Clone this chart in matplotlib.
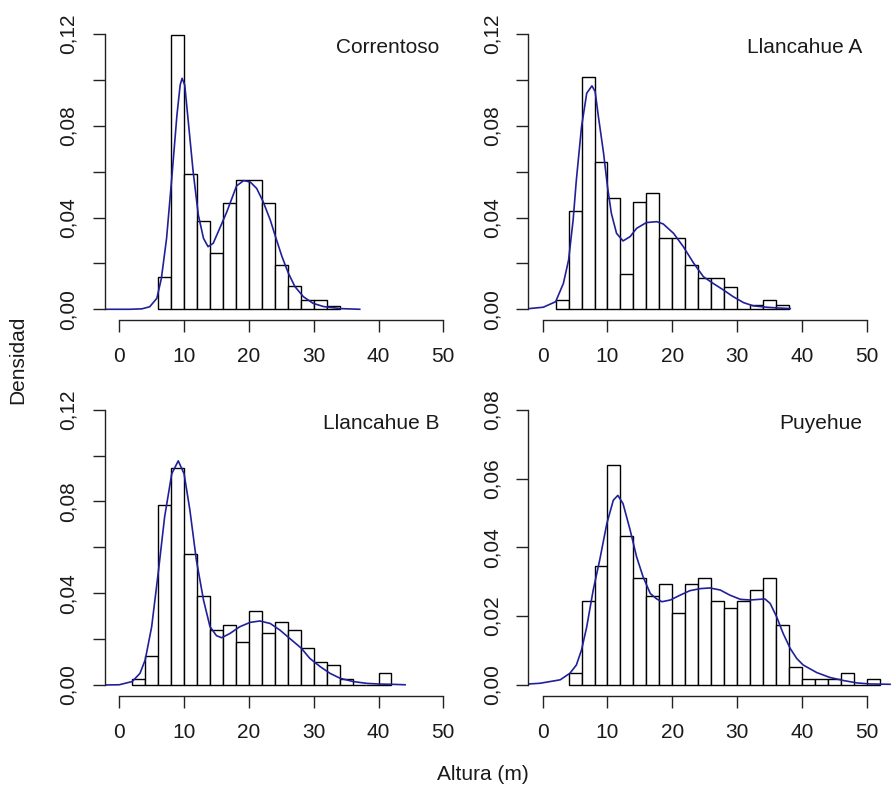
import numpy as np
import matplotlib
matplotlib.use("Agg")
from matplotlib import pyplot as plt

plt.rcParams['font.family'] = ['Liberation Sans', 'DejaVu Sans']

# histogram bins are 2 m wide; first left edge and bar densities per site
names = ["Correntoso", "Llancahue A", "Llancahue B", "Puyehue"]
starts = [6, 2, 2, 4]
h_corr = [0.0142, 0.1197, 0.0591, 0.0387, 0.0244, 0.0463, 0.0565, 0.0565,
          0.0463, 0.0193, 0.0103, 0.0039, 0.0039, 0.0016]
h_llA = [0.0039, 0.0429, 0.1011, 0.0642, 0.0487, 0.0155, 0.0466, 0.0506,
         0.0311, 0.0311, 0.0195, 0.0137, 0.0137, 0.0097, 0.0, 0.0017,
         0.0039, 0.0017]
h_llB = [0.0025, 0.0126, 0.0785, 0.0948, 0.0572, 0.0386, 0.0238, 0.0261,
         0.0187, 0.0324, 0.0225, 0.0274, 0.0238, 0.0163, 0.0100, 0.0087,
         0.0025, 0.0, 0.0, 0.0051]
h_puy = [0.0034, 0.0243, 0.0346, 0.0640, 0.0433, 0.0311, 0.0259, 0.0294,
         0.0208, 0.0294, 0.0311, 0.0243, 0.0225, 0.0243, 0.0277, 0.0311,
         0.0173, 0.0052, 0.0017, 0.0017, 0.0017, 0.0034, 0.0, 0.0017]

# density curves
kx_corr = [-2.2, 1.6, 3.5, 4.7, 5.8, 6.5, 7.3, 8.1, 8.9, 9.4, 9.7, 10.1, 10.6,
           11.4, 12.2, 13.0, 13.7, 14.5, 15.5, 16.6, 18.1, 19.2, 20.2, 21.2,
           22.2, 23.3, 24.1, 25.1, 26.1, 27.1, 28.4, 29.9, 31.5, 34.1, 37.1]
ky_corr = [0, 0, 0.0002, 0.0011, 0.0048, 0.0135, 0.0309, 0.0571, 0.0847,
           0.0978, 0.1007, 0.0978, 0.0833, 0.0600, 0.0411, 0.0309, 0.0273,
           0.0288, 0.0353, 0.0425, 0.0538, 0.0561, 0.0555, 0.0527, 0.0469,
           0.0389, 0.0317, 0.0230, 0.0157, 0.0099, 0.0055, 0.0026, 0.0012,
           0.0003, 0]
kx_llA = [-2.1, 0.1, 2.0, 3.2, 4.0, 4.7, 5.2, 6.0, 6.8, 7.6, 8.1, 8.6, 9.4,
          10.0, 10.6, 11.4, 12.4, 13.5, 14.5, 16.0, 17.6, 18.6, 20.2, 21.7,
          23.3, 24.8, 26.3, 27.9, 29.4, 31.0, 32.5, 34.6, 36.1, 38.2]
ky_llA = [0.0003, 0.0009, 0.0033, 0.0113, 0.0215, 0.0389, 0.0564, 0.0796,
          0.0942, 0.0974, 0.0949, 0.0840, 0.0680, 0.0535, 0.0418, 0.0331,
          0.0298, 0.0317, 0.0353, 0.0378, 0.0382, 0.0372, 0.0331, 0.0273,
          0.0201, 0.0142, 0.0113, 0.0084, 0.0055, 0.0029, 0.0015, 0.0009,
          0.0006, 0.0003]
kx_llB = [-2.2, 0.0, 2.0, 3.2, 4.0, 5.0, 6.0, 7.0, 8.1, 9.1, 10.0, 10.9, 11.9,
          13.0, 14.0, 15.0, 15.8, 17.1, 18.6, 20.2, 21.7, 23.3, 24.8, 26.3,
          28.1, 29.4, 31.0, 32.5, 34.1, 36.1, 38.2, 40.2, 42.0, 44.1]
ky_llB = [0.0, 0.0001, 0.0015, 0.0051, 0.0109, 0.0254, 0.0486, 0.0733,
          0.0921, 0.0977, 0.0921, 0.0762, 0.0544, 0.0370, 0.0254, 0.0215,
          0.0206, 0.0225, 0.0254, 0.0273, 0.0279, 0.0268, 0.0239, 0.0203,
          0.0160, 0.0116, 0.0080, 0.0051, 0.0029, 0.0015, 0.0007, 0.0004,
          0.0003, 0.0001]
kx_puy = [-2.1, -0.4, 2.7, 4.2, 5.2, 6.0, 6.8, 7.8, 8.8, 9.9, 10.9, 11.6,
          12.4, 13.5, 14.5, 15.5, 16.6, 17.6, 18.4, 19.7, 21.2, 22.7, 24.3,
          25.8, 27.4, 28.9, 30.5, 32.0, 33.5, 34.3, 35.1, 36.1, 37.1, 38.2,
          39.2, 40.2, 42.3, 44.3, 46.4, 48.5, 50.5, 53.6]
ky_puy = [0.0003, 0.0005, 0.0015, 0.0034, 0.0058, 0.0102, 0.0169, 0.0276,
          0.0363, 0.0469, 0.0537, 0.0551, 0.0527, 0.0450, 0.0372, 0.0314,
          0.0266, 0.0250, 0.0242, 0.0247, 0.0261, 0.0274, 0.0280, 0.0282,
          0.0276, 0.0261, 0.0249, 0.0247, 0.0249, 0.0250, 0.0237, 0.0198,
          0.0150, 0.0106, 0.0077, 0.0058, 0.0036, 0.0022, 0.0013, 0.0006,
          0.0003, 0.0002]

heights = [h_corr, h_llA, h_llB, h_puy]
curves = [(kx_corr, ky_corr), (kx_llA, ky_llA), (kx_llB, ky_llB), (kx_puy, ky_puy)]
ymax = [0.12, 0.12, 0.12, 0.08]

W, H = 893, 795
fig = plt.figure(figsize=(W / 100, H / 100), dpi=100)
lefts = [105, 528.4, 105, 528.4]
bottoms = [320.3, 320.3, 696, 696]
pw, ph = 385, 297.3

for i in range(4):
    ax = fig.add_axes([lefts[i] / W, 1 - bottoms[i] / H, pw / W, ph / H])
    edges = starts[i] + 2 * np.arange(len(heights[i]))
    ax.bar(edges, heights[i], width=2, align='edge', facecolor='white',
           edgecolor='black', linewidth=1.0)
    ax.plot(curves[i][0], curves[i][1], color='#20209a', linewidth=1.2)
    ax.set_xlim(-2.2, 57.2)
    ax.set_ylim(-0.04 * ymax[i], 1.04 * ymax[i])
    ax.spines['top'].set_visible(False)
    ax.spines['right'].set_visible(False)
    ax.spines['left'].set_bounds(0, ymax[i])
    ax.spines['bottom'].set_bounds(0, 50)
    for s in ['left', 'bottom']:
        ax.spines[s].set_linewidth(1.0)
        ax.spines[s].set_color('#222222')
    ax.set_xticks(range(0, 51, 10))
    yt = np.arange(0, ymax[i] + 0.001, 0.02)
    ax.set_yticks(yt)
    if ymax[i] > 0.1:
        ylab = [("%.2f" % v).replace('.', ',') if k % 2 == 0 else ''
                for k, v in enumerate(yt)]
    else:
        ylab = [("%.2f" % v).replace('.', ',') for v in yt]
    ax.set_yticklabels(ylab, rotation=90, va='center')
    ax.tick_params(length=8.5, width=1.0, color='#222222', labelsize=15,
                   labelcolor='#1a1a1a', pad=11)
    ax.text(0.868, 0.917, names[i], transform=ax.transAxes, ha='right',
            va='center', fontsize=15, color='#1a1a1a')

fig.text(18 / W, 1 - 360 / H, "Densidad", rotation=90, ha='center',
         va='center', fontsize=15, color='#1a1a1a')
fig.text(483 / W, 1 - 775 / H, "Altura (m)", ha='center', va='center',
         fontsize=15, color='#1a1a1a')

fig.savefig("out.png", dpi=100, facecolor='white')
